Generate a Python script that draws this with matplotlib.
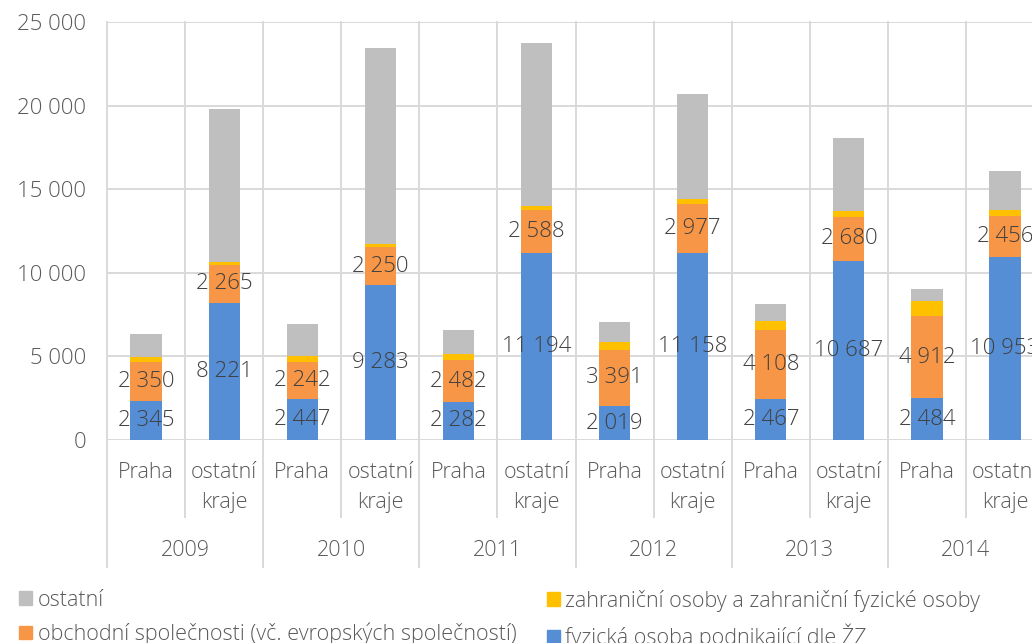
import matplotlib.pyplot as plt
from matplotlib.patches import Patch
from matplotlib.ticker import FuncFormatter

plt.rcParams['font.family'] = ['Open Sans', 'DejaVu Sans']

years = ["2009", "2010", "2011", "2012", "2013", "2014"]
regions = ["Praha", "ostatní\nkraje"]

# fyzická osoba podnikající dle ŽZ
blue = [2345, 8221, 2447, 9283, 2282, 11194, 2019, 11158, 2467, 10687, 2484, 10953]
# obchodní společnosti
orange = [2350, 2265, 2242, 2250, 2482, 2588, 3391, 2977, 4108, 2680, 4912, 2456]
# zahraniční osoby (estimated)
yellow = [290, 180, 350, 210, 380, 230, 430, 260, 560, 330, 920, 365]
# ostatní (estimated)
grey = [1360, 9110, 1900, 11700, 1435, 9710, 1215, 6300, 1015, 4365, 720, 2315]

c_blue = "#558ED5"
c_orange = "#F79646"
c_yellow = "#FFC000"
c_grey = "#BFBFBF"
c_grid = "#D9D9D9"
c_text = "#595959"

fig = plt.figure(figsize=(10.32, 6.43), dpi=100)
ax = fig.add_axes([0.1037, 0.3157, 0.908, 0.650])

x = list(range(len(blue)))
s1 = [b + o for b, o in zip(blue, orange)]
s2 = [a + y for a, y in zip(s1, yellow)]

w = 0.4
b1 = ax.bar(x, blue, w, color=c_blue, zorder=3)
b2 = ax.bar(x, orange, w, bottom=blue, color=c_orange, zorder=3)
ax.bar(x, yellow, w, bottom=s1, color=c_yellow, zorder=3)
ax.bar(x, grey, w, bottom=s2, color=c_grey, zorder=3)

fmt = lambda v: f"{v:,.0f}".replace(",", " ")
for bars in (b1, b2):
    ax.bar_label(bars, fmt=fmt, label_type='center', fontsize=16,
                 color="#404040", fontweight='light', zorder=4)

ax.set_xlim(-0.5, len(blue) - 0.5)
ax.set_ylim(0, 25000)
ax.set_yticks(range(0, 25001, 5000))
ax.yaxis.set_major_formatter(FuncFormatter(lambda v, p: fmt(v)))
ax.tick_params(axis='y', length=0, pad=15, labelsize=16, labelcolor=c_text)
ax.set_xticks([])
for lab in ax.get_yticklabels():
    lab.set_fontweight('light')
for sp in ax.spines.values():
    sp.set_visible(False)
ax.yaxis.grid(True, color=c_grid, lw=1.4, zorder=0)

# vertical separators
tr = ax.get_xaxis_transform()
for i in range(len(blue) + 1):
    bottom = -0.304 if i % 2 == 0 else -0.184
    ax.plot([i - 0.5, i - 0.5], [1, bottom], transform=tr, color=c_grid,
            lw=1.4, clip_on=False, zorder=0)

# category and year labels
for i in x:
    ax.text(i, -0.052, regions[i % 2], transform=tr, ha='center', va='top',
            fontsize=15.5, color=c_text, fontweight='light', linespacing=1.55)
for j, yr in enumerate(years):
    ax.text(2 * j + 0.5, -0.264, yr, transform=tr, ha='center', va='center',
            fontsize=15.5, color=c_text, fontweight='light')

leg_kw = dict(frameon=False, handlelength=0.6, handleheight=0.6,
              handletextpad=0.25, labelspacing=0.55, loc='upper left',
              prop={'size': 15.5, 'weight': 'light'}, labelcolor=c_text)
fig.legend([Patch(color=c_grey), Patch(color=c_orange)],
           ["ostatní", "obchodní společnosti (vč. evropských společností)"],
           bbox_to_anchor=(0.0, 0.113), **leg_kw)
fig.legend([Patch(color=c_yellow), Patch(color=c_blue)],
           ["zahraniční osoby a zahraniční fyzické osoby", "fyzická osoba podnikající dle ŽZ"],
           bbox_to_anchor=(0.511, 0.113), **leg_kw)

fig.savefig("out.png", dpi=100)
